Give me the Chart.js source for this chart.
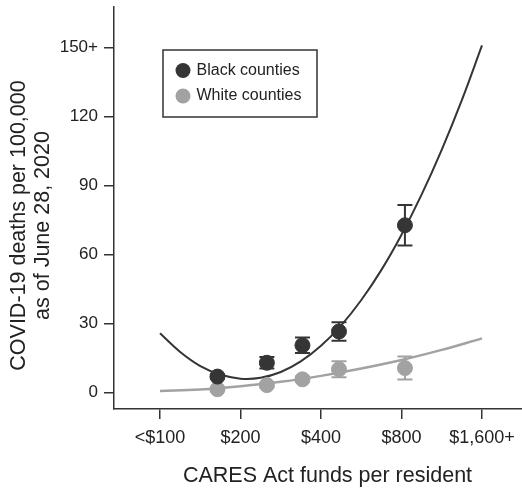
<!DOCTYPE html>
<html>
<head>
<meta charset="utf-8">
<script src="https://cdn.jsdelivr.net/npm/chart.js@4"></script>
<style>
  body { margin: 0; background: #fff; }
  #wrap { width: 522px; height: 488px; }
</style>
</head>
<body>
<div id="wrap"><canvas id="chart" width="522" height="488"></canvas></div>
<script>
// ===== Dados =====
const fundBins = [164, 251, 341, 467, 824];          // CARES $ per resident (log axis)
const blackDeaths = [7.0, 13.0, 20.6, 26.6, 72.8];
const blackErr = [1.0, 2.5, 3.4, 4.0, 8.8];
const whiteDeaths = [1.5, 3.3, 5.8, 10.2, 10.7];
const whiteErr = [0.8, 1.0, 1.2, 3.5, 5.0];

// fitted curves
const blackFitX = [100, 119, 141, 168, 200, 238, 283, 336, 400, 476, 566, 673, 800, 951, 1131, 1345, 1600];
const blackFitY = [25.8, 17.7, 11.7, 7.9, 6.1, 6.5, 9.0, 13.6, 20.4, 29.3, 40.3, 53.4, 68.7, 86.1, 105.6, 127.2, 151.0];
const whiteFitX = [100, 141, 200, 283, 400, 566, 800, 1131, 1600];
const whiteFitY = [0.7, 1.4, 2.8, 4.7, 7.3, 10.5, 14.2, 18.6, 23.6];

const xTicks = [100, 200, 400, 800, 1600];
const xTickLabels = ['<$100', '$200', '$400', '$800', '$1,600+'];
const yTicks = [0, 30, 60, 90, 120, 150];
const yTickLabels = ['0', '30', '60', '90', '120', '150+'];

const FONT = "'Liberation Sans', Arial, Helvetica, sans-serif";
const INK = '#222';
const DARK = '#353535';
const GREY = '#a2a2a2';

const toXY = (xs, ys) => xs.map((x, i) => ({ x: x, y: ys[i] }));

// ===== Barras de erro =====
const errorBars = {
  id: 'errorBars',
  beforeDatasetsDraw(chart) {
    const { ctx, scales: { x, y } } = chart;
    const sets = [
      { vals: blackDeaths, err: blackErr, color: DARK },
      { vals: whiteDeaths, err: whiteErr, color: GREY }
    ];
    ctx.save();
    ctx.lineWidth = 2;
    sets.forEach(s => {
      ctx.strokeStyle = s.color;
      s.vals.forEach((v, i) => {
        const px = x.getPixelForValue(fundBins[i]);
        const top = y.getPixelForValue(v + s.err[i]);
        const bot = y.getPixelForValue(v - s.err[i]);
        ctx.beginPath();
        ctx.moveTo(px, top); ctx.lineTo(px, bot);
        ctx.moveTo(px - 7.5, top); ctx.lineTo(px + 7.5, top);
        ctx.moveTo(px - 7.5, bot); ctx.lineTo(px + 7.5, bot);
        ctx.stroke();
      });
    });
    ctx.restore();
  }
};

// ===== Legenda com caixa e títulos dos eixos =====
const decorations = {
  id: 'decorations',
  afterDraw(chart) {
    const { ctx, chartArea } = chart;
    ctx.save();
    // legend box
    const bx = chartArea.left + 49, by = chartArea.top + 43;
    ctx.strokeStyle = '#333';
    ctx.lineWidth = 1.5;
    ctx.strokeRect(bx, by, 154, 67);
    const items = [
      { label: 'Black counties', color: DARK },
      { label: 'White counties', color: GREY }
    ];
    ctx.font = '16px ' + FONT;
    ctx.textBaseline = 'middle';
    ctx.textAlign = 'left';
    items.forEach((it, i) => {
      const cy = by + 20.5 + i * 25.5;
      ctx.fillStyle = it.color;
      ctx.beginPath();
      ctx.arc(bx + 20, cy, 7.5, 0, Math.PI * 2);
      ctx.fill();
      ctx.fillStyle = INK;
      ctx.fillText(it.label, bx + 33.5, cy);
    });

    // axis titles
    ctx.font = '21.5px ' + FONT;
    ctx.fillStyle = INK;
    ctx.textAlign = 'center';
    ctx.fillText('CARES Act funds per resident', 327.5, 476);
    ctx.translate(0, 225.5);
    ctx.rotate(-Math.PI / 2);
    ctx.fillText('COVID-19 deaths per 100,000', 0, 19);
    ctx.fillText('as of June 28, 2020', 0, 43.5);
    ctx.restore();
  }
};

// sem folgas extras das escalas: a área do gráfico fica fixa
function noPadding(axis) {
  axis.paddingLeft = 0;
  axis.paddingRight = 0;
  axis.paddingTop = 0;
  axis.paddingBottom = 0;
}

new Chart(document.getElementById('chart').getContext('2d'), {
  type: 'scatter',
  data: {
    datasets: [
      {
        label: 'Black counties',
        data: toXY(fundBins, blackDeaths),
        backgroundColor: DARK,
        borderColor: DARK,
        pointRadius: 7.5,
        order: 1
      },
      {
        label: 'White counties',
        data: toXY(fundBins, whiteDeaths),
        backgroundColor: GREY,
        borderColor: GREY,
        pointRadius: 7.5,
        order: 2
      },
      {
        label: 'Black fit',
        type: 'line',
        data: toXY(blackFitX, blackFitY),
        borderColor: DARK,
        borderWidth: 2,
        pointRadius: 0,
        tension: 0.4,
        fill: false,
        order: 3
      },
      {
        label: 'White fit',
        type: 'line',
        data: toXY(whiteFitX, whiteFitY),
        borderColor: GREY,
        borderWidth: 2.5,
        pointRadius: 0,
        tension: 0.4,
        fill: false,
        order: 4
      }
    ]
  },
  options: {
    responsive: false,
    animation: false,
    layout: { autoPadding: false, padding: { top: 7, left: 0, right: 0, bottom: 0 } },
    plugins: {
      legend: { display: false },
      tooltip: { enabled: false }
    },
    scales: {
      x: {
        type: 'logarithmic',
        min: 67.3,
        max: 2258,
        afterBuildTicks: (axis) => { axis.ticks = xTicks.map(v => ({ value: v })); },
        afterFit: (axis) => { axis.height = 79; noPadding(axis); },
        ticks: {
          color: INK,
          font: { family: FONT, size: 18 },
          padding: 8,
          maxRotation: 0,
          autoSkip: false,
          callback: (v) => xTickLabels[xTicks.indexOf(v)]
        },
        grid: { drawOnChartArea: false, drawTicks: true, tickLength: 10, color: '#333', lineWidth: 1.5 },
        border: { color: '#333', width: 1.5 }
      },
      y: {
        type: 'linear',
        min: -7.1,
        max: 167.7,
        afterBuildTicks: (axis) => { axis.ticks = yTicks.map(v => ({ value: v })); },
        afterFit: (axis) => { axis.width = 114; noPadding(axis); },
        ticks: {
          color: INK,
          font: { family: FONT, size: 17 },
          padding: 6,
          autoSkip: false,
          callback: (v) => yTickLabels[yTicks.indexOf(v)]
        },
        grid: { drawOnChartArea: false, drawTicks: true, tickLength: 10, color: '#333', lineWidth: 1.5 },
        border: { color: '#333', width: 1.5 }
      }
    }
  },
  plugins: [errorBars, decorations]
});
</script>
</body>
</html>
